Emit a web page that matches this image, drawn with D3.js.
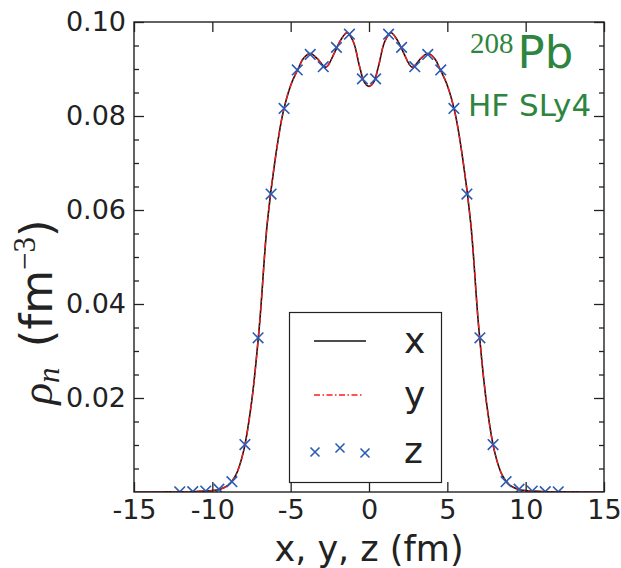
<!DOCTYPE html>
<html>
<head>
<meta charset="utf-8">
<script src="https://cdn.jsdelivr.net/npm/d3@7"></script>
<style>
  body { margin: 0; background: #fff; }
</style>
</head>
<body>
<div id="chart"></div>
<script>
// HF SLy4 neutron density of 208Pb along the three axes
const curveX = [-15, -14, -13, -12, -11, -10, -9.5, -9, -8.5, -8, -7.5, -7, -6.5, -6, -5.5, -5, -4.5, -4.2,
  -3.75, -3.3, -2.75, -2.2, -1.8, -1.4, -1.0, -0.6, -0.3, 0, 0.3, 0.6, 1.0, 1.4, 1.8, 2.2, 2.75, 3.3, 3.75,
  4.2, 4.5, 5, 5.5, 6, 6.5, 7, 7.5, 8, 8.5, 9, 9.5, 10, 11, 12, 13, 14, 15];
const rhoX = [0, 0.00001, 0.00002, 0.00005, 0.00012, 0.0003, 0.0006, 0.0014, 0.0036, 0.0088, 0.0190, 0.0352,
  0.0570, 0.0705, 0.0805, 0.0865, 0.0902, 0.0922, 0.0933, 0.0922, 0.0904, 0.0935, 0.0962, 0.0977, 0.0958,
  0.0905, 0.0872, 0.0863, 0.0872, 0.0905, 0.0958, 0.0977, 0.0962, 0.0935, 0.0904, 0.0922, 0.0933, 0.0922,
  0.0902, 0.0865, 0.0805, 0.0705, 0.0570, 0.0352, 0.0190, 0.0088, 0.0036, 0.0014, 0.0006, 0.0003, 0.00012,
  0.00005, 0.00002, 0.00001, 0];
const rhoY = rhoX;
const zX = [-12.08, -11.25, -10.42, -9.58, -8.75, -7.92, -7.08, -6.25, -5.42, -4.58, -3.75, -2.92, -2.08, -1.25, -0.42,
  0.42, 1.25, 2.08, 2.92, 3.75, 4.58, 5.42, 6.25, 7.08, 7.92, 8.75, 9.58, 10.42, 11.25, 12.08];
const rhoZ = [0.00003, 0.00008, 0.0002, 0.0006, 0.0022, 0.0101, 0.0328, 0.0634, 0.0816, 0.0898, 0.0931, 0.0905,
  0.0946, 0.0974, 0.0879, 0.0879, 0.0974, 0.0946, 0.0905, 0.0931, 0.0898, 0.0816, 0.0634, 0.0328, 0.0101,
  0.0022, 0.0006, 0.0002, 0.00008, 0.00003];
const xTicks = [-15, -10, -5, 0, 5, 10, 15];
const yTicks = [0.02, 0.04, 0.06, 0.08, 0.10];
const legendLabels = ["x", "y", "z"];

const width = 621, height = 568;
const margin = {left: 134, top: 22, right: 17, bottom: 76};
const ink = "#222";
const blue = "#2b5bb5";
const red = "#ff1a1a";
const green = "#2e8540";

const svg = d3.select("#chart").append("svg")
  .attr("width", width).attr("height", height)
  .style("font-family", "'DejaVu Sans', sans-serif");

const xScale = d3.scaleLinear().domain([-15, 15]).range([margin.left, width - margin.right]);
const yScale = d3.scaleLinear().domain([0, 0.1]).range([height - margin.bottom, margin.top]);

svg.append("clipPath").attr("id", "plot-clip")
  .append("rect")
  .attr("x", margin.left).attr("y", margin.top)
  .attr("width", width - margin.left - margin.right)
  .attr("height", height - margin.top - margin.bottom);

const plot = svg.append("g").attr("clip-path", "url(#plot-clip)");

const line = d3.line()
  .x((d) => xScale(d[0]))
  .y((d) => yScale(d[1]))
  .curve(d3.curveCatmullRom.alpha(0.5));

plot.append("path")
  .datum(curveX.map((v, i) => [v, rhoX[i]]))
  .attr("fill", "none").attr("stroke", "#111").attr("stroke-width", 1.6)
  .attr("d", line);

plot.append("path")
  .datum(curveX.map((v, i) => [v, rhoY[i]]))
  .attr("fill", "none").attr("stroke", red).attr("stroke-width", 1.4)
  .attr("stroke-dasharray", "6,2.5,1.5,2.5")
  .attr("d", line);

function cross(s) {
  return `M${-s},${-s}L${s},${s}M${-s},${s}L${s},${-s}`;
}

plot.selectAll(".zmark")
  .data(zX.map((v, i) => [v, rhoZ[i]]))
  .enter().append("path")
  .attr("class", "zmark")
  .attr("transform", (d) => `translate(${xScale(d[0])},${yScale(d[1])})`)
  .attr("d", cross(5.3))
  .attr("fill", "none").attr("stroke", blue).attr("stroke-width", 1.6);

// axes: ticks inside on all four sides
const yMinor = d3.range(0.005, 0.1, 0.005).filter((v) => Math.abs(v / 0.02 - Math.round(v / 0.02)) > 1e-6);

function styleAxis(g) {
  g.select(".domain").remove();
  g.attr("color", ink);
  g.selectAll("line").attr("stroke-width", 1.3);
  g.selectAll("text").attr("font-size", 27).attr("font-family", "'DejaVu Sans', sans-serif");
}

svg.append("g").attr("transform", `translate(${margin.left},0)`)
  .call(d3.axisLeft(yScale).tickValues(yTicks).tickSizeInner(-10).tickSizeOuter(0).tickPadding(8)
    .tickFormat(d3.format(".2f")))
  .call(styleAxis);
svg.append("g").attr("transform", `translate(${margin.left},0)`)
  .call(d3.axisLeft(yScale).tickValues(yMinor).tickSize(-5).tickFormat(""))
  .call(styleAxis);
svg.append("g").attr("transform", `translate(${width - margin.right},0)`)
  .call(d3.axisRight(yScale).tickValues(yTicks).tickSize(-10).tickFormat(""))
  .call(styleAxis);
svg.append("g").attr("transform", `translate(${width - margin.right},0)`)
  .call(d3.axisRight(yScale).tickValues(yMinor).tickSize(-5).tickFormat(""))
  .call(styleAxis);
svg.append("g").attr("transform", `translate(0,${height - margin.bottom})`)
  .call(d3.axisBottom(xScale).tickValues(xTicks).tickSizeInner(-10).tickSizeOuter(0).tickPadding(8)
    .tickFormat((d) => (d < 0 ? "-" + Math.abs(d) : String(d))))
  .call(styleAxis);
svg.append("g").attr("transform", `translate(0,${margin.top})`)
  .call(d3.axisTop(xScale).tickValues(xTicks).tickSize(-10).tickFormat(""))
  .call(styleAxis);

svg.append("rect")
  .attr("x", margin.left).attr("y", margin.top)
  .attr("width", width - margin.left - margin.right)
  .attr("height", height - margin.top - margin.bottom)
  .attr("fill", "none").attr("stroke", ink).attr("stroke-width", 1.4);

// axis labels
svg.append("text")
  .attr("x", (margin.left + width - margin.right) / 2).attr("y", 561)
  .attr("text-anchor", "middle").attr("font-size", 35).attr("fill", ink)
  .text("x, y, z (fm)");

const yl = svg.append("text")
  .attr("transform", "translate(52,312) rotate(-90)")
  .attr("text-anchor", "middle").attr("font-size", 45).attr("fill", ink);
yl.append("tspan").attr("font-family", "'Liberation Serif', serif").attr("font-style", "italic").text("ρ");
yl.append("tspan").attr("font-family", "'Liberation Serif', serif").attr("font-style", "italic")
  .attr("font-size", 31).attr("dy", 7).text("n");
yl.append("tspan").attr("dy", -7).attr("dx", 6).text(" (fm");
yl.append("tspan").attr("font-family", "'Liberation Serif', serif").attr("font-size", 31).attr("dy", -17).text("−3");
yl.append("tspan").attr("dy", 17).text(")");

// annotation
const pb = svg.append("text").attr("x", 470).attr("y", 68).attr("fill", green);
pb.append("tspan").attr("font-family", "'Liberation Serif', serif").attr("font-size", 29).attr("dy", -15).text("208");
pb.append("tspan").attr("font-size", 45).attr("dy", 15).attr("dx", 4).text("Pb");
svg.append("text").attr("x", 468).attr("y", 116).attr("fill", green).attr("font-size", 31).text("HF SLy4");

// legend
const lg = svg.append("g");
lg.append("rect").attr("x", 289.5).attr("y", 312.5).attr("width", 152).attr("height", 170)
  .attr("fill", "#fff").attr("stroke", ink).attr("stroke-width", 1.2);
const rowY = [341, 395, 451];
lg.append("line").attr("x1", 314).attr("x2", 366).attr("y1", rowY[0]).attr("y2", rowY[0])
  .attr("stroke", "#111").attr("stroke-width", 1.6);
lg.append("line").attr("x1", 314).attr("x2", 362).attr("y1", rowY[1]).attr("y2", rowY[1])
  .attr("stroke", red).attr("stroke-width", 1.4).attr("stroke-dasharray", "6,2.5,1.5,2.5");
[[315, 1], [340, -3], [365, 2]].forEach(([px, off]) => {
  lg.append("path").attr("transform", `translate(${px},${rowY[2] + off})`)
    .attr("d", cross(4.5)).attr("fill", "none").attr("stroke", blue).attr("stroke-width", 1.6);
});
lg.selectAll(".lab").data(legendLabels).enter().append("text")
  .attr("x", 404).attr("y", (d, i) => rowY[i] + 12)
  .attr("font-size", 36).attr("fill", ink)
  .text((d) => d);
</script>
</body>
</html>
